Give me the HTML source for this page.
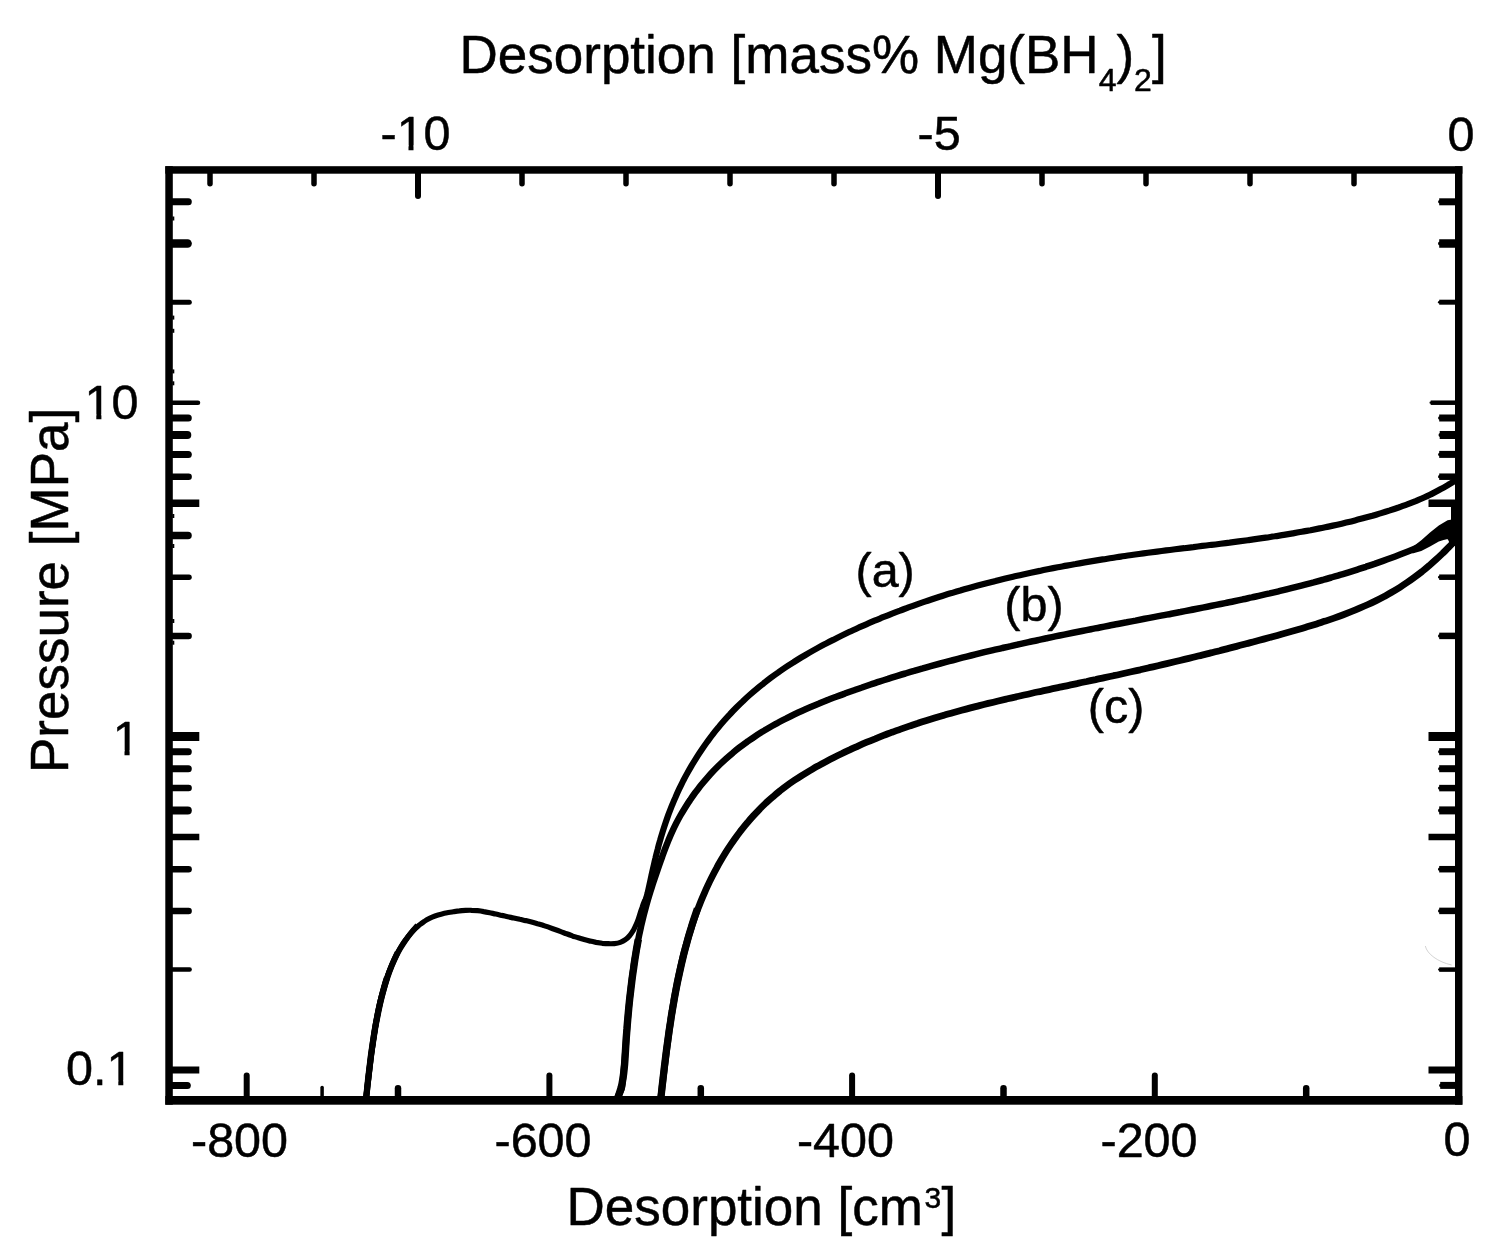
<!DOCTYPE html>
<html lang="en"><head><meta charset="utf-8"><title>Desorption isotherms</title>
<style>html,body{margin:0;padding:0;background:#fff}body{width:1486px;height:1256px;overflow:hidden}svg{display:block}text{font-family:"Liberation Sans",Arial,Helvetica,sans-serif;fill:#000;stroke:#000;stroke-width:.5px;stroke-linejoin:round}</style>
</head><body>
<svg width="1486" height="1256" viewBox="0 0 1486 1256">
<rect width="1486" height="1256" fill="#fff"/>
<g fill="#000">
<rect x="165.3" y="166.2" width="1297.1" height="7.5"/>
<rect x="165.3" y="1096.0" width="1297.1" height="8.7"/>
<rect x="165.3" y="166.2" width="7.5" height="938.5"/>
<rect x="1455.0" y="166.2" width="7.4" height="938.5"/>
<rect x="1451" y="507" width="5" height="39"/>
</g>
<g stroke="#000" stroke-linecap="round" fill="none">
<path d="M171.8,201.8h16.5" stroke-width="7.0"/>
<path d="M1456.0,201.8h-16.2" stroke-width="3.5"/>
<path d="M1456.0,201.8h-16.8" stroke-width="7.0" stroke-linecap="butt"/>
<path d="M171.8,243.5h15.8" stroke-width="8.5"/>
<path d="M1456.0,243.5h-15.9" stroke-width="4.2"/>
<path d="M1456.0,243.5h-16.8" stroke-width="8.5" stroke-linecap="butt"/>
<path d="M171.8,302.2h17.5" stroke-width="5.0"/>
<path d="M1456.0,302.2h-16.8" stroke-width="2.5"/>
<path d="M1456.0,302.2h-16.8" stroke-width="5.0" stroke-linecap="butt"/>
<path d="M171.8,402.7h26.2" stroke-width="4.5"/>
<path d="M1456.0,402.7h-25.4" stroke-width="2.2"/>
<path d="M1456.0,402.7h-25.3" stroke-width="4.5" stroke-linecap="butt"/>
<path d="M171.8,418.0h16.5" stroke-width="7.0"/>
<path d="M1456.0,418.0h-16.2" stroke-width="3.5"/>
<path d="M1456.0,418.0h-16.8" stroke-width="7.0" stroke-linecap="butt"/>
<path d="M171.8,435.0h15.5" stroke-width="8.0"/>
<path d="M1456.0,435.0h-15.5" stroke-width="4.0"/>
<path d="M1456.0,435.0h-16.3" stroke-width="8.0" stroke-linecap="butt"/>
<path d="M171.8,454.4h16.5" stroke-width="7.0"/>
<path d="M1456.0,454.4h-16.2" stroke-width="3.5"/>
<path d="M1456.0,454.4h-16.8" stroke-width="7.0" stroke-linecap="butt"/>
<path d="M171.8,476.7h16.8" stroke-width="6.5"/>
<path d="M1456.0,476.7h-16.4" stroke-width="3.2"/>
<path d="M1456.0,476.7h-16.8" stroke-width="6.5" stroke-linecap="butt"/>
<path d="M171.8,503.2h27.5M1456.0,503.2h-27.5" stroke-width="7.5" stroke-linecap="butt"/>
<path d="M171.8,535.5h16.2" stroke-width="7.5"/>
<path d="M1456.0,535.5h-16.1" stroke-width="3.8"/>
<path d="M1456.0,535.5h-16.8" stroke-width="7.5" stroke-linecap="butt"/>
<path d="M171.8,577.2h17.2" stroke-width="5.5"/>
<path d="M1456.0,577.2h-16.6" stroke-width="2.8"/>
<path d="M1456.0,577.2h-16.8" stroke-width="5.5" stroke-linecap="butt"/>
<path d="M171.8,635.9h16.8" stroke-width="6.5"/>
<path d="M1456.0,635.9h-16.4" stroke-width="3.2"/>
<path d="M1456.0,635.9h-16.8" stroke-width="6.5" stroke-linecap="butt"/>
<path d="M171.8,736.4h27.5M1456.0,736.4h-27.5" stroke-width="9.0" stroke-linecap="butt"/>
<path d="M171.8,751.7h16.5" stroke-width="7.0"/>
<path d="M1456.0,751.7h-16.2" stroke-width="3.5"/>
<path d="M1456.0,751.7h-16.8" stroke-width="7.0" stroke-linecap="butt"/>
<path d="M171.8,768.7h16.5" stroke-width="7.0"/>
<path d="M1456.0,768.7h-16.2" stroke-width="3.5"/>
<path d="M1456.0,768.7h-16.8" stroke-width="7.0" stroke-linecap="butt"/>
<path d="M171.8,788.1h16.8" stroke-width="6.5"/>
<path d="M1456.0,788.1h-16.4" stroke-width="3.2"/>
<path d="M1456.0,788.1h-16.8" stroke-width="6.5" stroke-linecap="butt"/>
<path d="M171.8,810.4h16.0" stroke-width="8.0"/>
<path d="M1456.0,810.4h-16.0" stroke-width="4.0"/>
<path d="M1456.0,810.4h-16.8" stroke-width="8.0" stroke-linecap="butt"/>
<path d="M171.8,836.9h27.5M1456.0,836.9h-27.5" stroke-width="6.5" stroke-linecap="butt"/>
<path d="M171.8,869.2h16.8" stroke-width="6.5"/>
<path d="M1456.0,869.2h-16.4" stroke-width="3.2"/>
<path d="M1456.0,869.2h-16.8" stroke-width="6.5" stroke-linecap="butt"/>
<path d="M171.8,910.9h16.8" stroke-width="6.5"/>
<path d="M1456.0,910.9h-16.4" stroke-width="3.2"/>
<path d="M1456.0,910.9h-16.8" stroke-width="6.5" stroke-linecap="butt"/>
<path d="M171.8,969.6h17.8" stroke-width="4.5"/>
<path d="M1456.0,969.6h-16.9" stroke-width="2.2"/>
<path d="M1456.0,969.6h-16.8" stroke-width="4.5" stroke-linecap="butt"/>
<path d="M171.8,1070.1h27.5M1456.0,1070.1h-27.5" stroke-width="7.0" stroke-linecap="butt"/>
<path d="M171.8,1085.4h15.5" stroke-width="7.0"/>
<path d="M1456.0,1085.4h-15.2" stroke-width="3.5"/>
<path d="M1456.0,1085.4h-15.8" stroke-width="7.0" stroke-linecap="butt"/>
<path d="M172.3,218.5h2" stroke-width="4" stroke-linecap="butt"/>
<path d="M172.3,317.6h2" stroke-width="4" stroke-linecap="butt"/>
<path d="M172.3,330.8h2" stroke-width="4" stroke-linecap="butt"/>
<path d="M172.3,371.4h2" stroke-width="4" stroke-linecap="butt"/>
<path d="M172.3,383.3h2" stroke-width="4" stroke-linecap="butt"/>
<path d="M172.3,516.0h2" stroke-width="4" stroke-linecap="butt"/>
<path d="M172.3,546.0h2" stroke-width="4" stroke-linecap="butt"/>
<path d="M172.3,621.0h2" stroke-width="4" stroke-linecap="butt"/>
<path d="M172.3,642.7h2" stroke-width="4" stroke-linecap="butt"/>
<path d="M210.0,172.7V183.8" stroke-width="5.5"/>
<path d="M314.0,172.7V183.8" stroke-width="5.5"/>
<path d="M418.0,172.7V196.0" stroke-width="6"/>
<path d="M522.0,172.7V183.8" stroke-width="5.5"/>
<path d="M626.0,172.7V183.8" stroke-width="5.5"/>
<path d="M730.0,172.7V183.8" stroke-width="5.5"/>
<path d="M834.0,172.7V183.8" stroke-width="5.5"/>
<path d="M938.0,172.7V196.0" stroke-width="6"/>
<path d="M1042.0,172.7V183.8" stroke-width="5.5"/>
<path d="M1146.0,172.7V183.8" stroke-width="5.5"/>
<path d="M1250.0,172.7V183.8" stroke-width="5.5"/>
<path d="M1354.0,172.7V183.8" stroke-width="5.5"/>
<path d="M246.7,1097.0V1075.5" stroke-width="6"/>
<path d="M549.4,1097.0V1075.5" stroke-width="6"/>
<path d="M852.1,1097.0V1075.5" stroke-width="6"/>
<path d="M1154.8,1097.0V1075.5" stroke-width="6"/>
<path d="M398.0,1097.0V1088.2" stroke-width="6.5"/>
<path d="M700.8,1097.0V1088.2" stroke-width="6.5"/>
<path d="M1003.5,1097.0V1088.2" stroke-width="6.5"/>
<path d="M1306.2,1097.0V1088.2" stroke-width="6.5"/>
<path d="M322.1,1097.0V1087.5" stroke-width="3.5"/>
</g>
<g fill="none" stroke="#000" stroke-linejoin="round" stroke-linecap="butt">
<path d="M366.5,1097.0C366.6,1096.0 366.7,1092.9 366.8,1090.9C367.0,1088.9 367.1,1086.8 367.3,1084.8C367.5,1082.8 367.7,1080.8 367.9,1078.7C368.1,1076.7 368.4,1074.7 368.6,1072.6C368.9,1070.6 369.1,1068.6 369.4,1066.5C369.7,1064.5 370.0,1062.5 370.3,1060.5C370.6,1058.4 370.9,1056.4 371.2,1054.4C371.5,1052.3 371.8,1050.3 372.1,1048.3C372.5,1046.3 372.8,1044.2 373.1,1042.2C373.4,1040.2 373.7,1038.2 374.1,1036.2C374.4,1034.2 374.7,1032.2 375.1,1030.1C375.4,1028.1 375.7,1026.1 376.1,1024.1C376.4,1022.1 376.8,1020.1 377.1,1018.1C377.5,1016.1 377.9,1014.1 378.2,1012.1C378.6,1010.1 379.0,1008.1 379.5,1006.1C379.9,1004.1 380.3,1002.1 380.8,1000.2C381.2,998.2 381.7,996.2 382.2,994.2C382.7,992.2 383.2,990.2 383.8,988.2C384.3,986.3 384.9,984.3 385.5,982.3C386.1,980.4 386.7,978.4 387.4,976.4C388.0,974.5 388.7,972.5 389.4,970.6C390.2,968.7 390.9,966.8 391.7,964.9C392.5,963.0 393.4,961.1 394.2,959.3C395.1,957.4 396.0,955.6 397.0,953.8C397.9,952.0 398.9,950.2 400.0,948.4C401.0,946.7 402.1,944.9 403.2,943.2C404.4,941.5 405.5,939.9 406.8,938.3C408.0,936.6 409.3,935.0 410.6,933.5C412.0,932.0 413.4,930.5 414.8,929.1C416.3,927.7 417.8,926.3 419.3,925.0C420.9,923.8 422.5,922.6 424.2,921.5C425.9,920.3 427.6,919.3 429.5,918.4C431.3,917.5 433.2,916.7 435.1,916.0C437.1,915.3 439.1,914.7 441.1,914.2C443.1,913.7 445.2,913.2 447.2,912.8C449.3,912.4 451.4,912.1 453.4,911.7C455.5,911.4 457.5,911.1 459.5,910.9C461.5,910.6 463.5,910.5 465.6,910.4C467.6,910.3 469.6,910.2 471.6,910.3C473.6,910.3 475.6,910.5 477.6,910.7C479.7,910.9 481.7,911.2 483.7,911.6C485.7,911.9 487.7,912.3 489.7,912.7C491.7,913.1 493.8,913.6 495.8,914.0C497.8,914.5 499.8,914.9 501.8,915.4C503.8,915.8 505.8,916.3 507.8,916.7C509.8,917.1 511.8,917.6 513.8,918.0C515.8,918.4 517.8,918.8 519.8,919.3C521.8,919.7 523.7,920.2 525.7,920.6C527.7,921.1 529.7,921.6 531.6,922.1C533.6,922.6 535.6,923.1 537.5,923.7C539.5,924.2 541.4,924.8 543.4,925.4C545.3,926.1 547.3,926.7 549.2,927.4C551.1,928.1 553.1,928.8 555.0,929.5C556.9,930.2 558.9,930.9 560.8,931.6C562.7,932.3 564.7,933.1 566.6,933.8C568.6,934.5 570.5,935.2 572.4,935.9C574.4,936.5 576.3,937.2 578.3,937.8C580.2,938.4 582.2,939.0 584.2,939.6C586.1,940.2 588.1,940.7 590.1,941.1C592.1,941.6 594.1,942.0 596.1,942.4C598.1,942.7 600.1,943.0 602.2,943.3C604.2,943.5 606.2,943.7 608.3,943.7C610.3,943.8 612.4,943.8 614.4,943.6C616.4,943.4 618.4,943.1 620.3,942.4C622.1,941.8 623.8,940.9 625.4,939.7C627.0,938.6 628.5,937.1 629.8,935.5C631.1,934.0 632.2,932.2 633.3,930.4C634.3,928.6 635.2,926.8 636.0,924.8C636.9,922.9 637.6,921.0 638.3,919.0C639.0,917.0 639.6,915.0 640.2,913.0C640.9,911.0 641.5,909.0 642.2,907.1C642.8,905.2 643.5,903.2 644.3,901.4C645.1,899.6 646.5,897.0 646.9,896.1" stroke-width="5.2"/>
<path d="M366.3,1097.0C366.5,1095.3 367.0,1090.3 367.3,1087.0C367.7,1083.7 368.0,1080.3 368.4,1077.0C368.8,1073.7 369.2,1070.3 369.6,1067.0C370.0,1063.7 370.4,1060.4 370.8,1057.0C371.2,1053.7 371.7,1050.4 372.2,1047.0C372.7,1043.7 373.2,1040.4 373.7,1037.1C374.2,1033.8 374.8,1030.5 375.3,1027.1C375.9,1023.8 376.5,1020.5 377.2,1017.2C377.8,1014.0 378.5,1010.7 379.2,1007.4C379.9,1004.1 380.7,1000.8 381.5,997.6C382.3,994.3 383.1,991.1 384.0,987.8C384.9,984.6 386.3,979.8 386.8,978.2" stroke-width="6.3"/>
<path d="M366.2,1096.9C366.4,1095.3 367.0,1090.4 367.4,1087.2C367.7,1083.9 368.1,1080.6 368.5,1077.4C368.9,1074.1 369.2,1070.8 369.6,1067.6C370.0,1064.3 370.4,1061.0 370.8,1057.7C371.2,1054.4 371.6,1051.1 372.1,1047.9C372.5,1044.6 373.0,1041.3 373.5,1038.0C374.0,1034.8 374.5,1031.5 375.0,1028.2C375.6,1025.0 376.2,1021.7 376.8,1018.5C377.4,1015.2 378.0,1012.0 378.7,1008.8C379.5,1005.5 380.2,1002.3 381.0,999.1C381.8,995.9 382.6,992.7 383.6,989.6C384.5,986.4 385.4,983.3 386.5,980.1C387.5,977.0 388.6,973.9 389.7,970.8C390.9,967.7 392.1,964.7 393.5,961.6C394.8,958.6 396.9,954.1 397.6,952.6" stroke-width="6.0"/>
<path d="M366.1,1096.8C366.3,1095.2 366.9,1090.6 367.3,1087.5C367.7,1084.4 368.1,1081.2 368.5,1078.1C368.8,1074.9 369.2,1071.8 369.6,1068.6C370.0,1065.5 370.4,1062.3 370.7,1059.1C371.1,1055.9 371.5,1052.7 372.0,1049.6C372.4,1046.4 372.8,1043.2 373.3,1040.0C373.7,1036.8 374.2,1033.6 374.7,1030.4C375.2,1027.3 375.7,1024.1 376.3,1020.9C376.9,1017.8 377.5,1014.6 378.1,1011.4C378.7,1008.3 379.4,1005.1 380.1,1002.0C380.9,998.9 381.6,995.8 382.5,992.7C383.3,989.6 384.2,986.6 385.1,983.5C386.1,980.5 387.1,977.5 388.2,974.5C389.3,971.5 390.5,968.6 391.7,965.7C393.0,962.8 394.3,959.9 395.7,957.1C397.1,954.2 398.6,951.5 400.2,948.7C401.8,946.0 403.5,943.3 405.3,940.6C407.1,938.0 409.0,935.4 411.0,932.9C413.1,930.3 416.4,926.7 417.5,925.4" stroke-width="5.6"/>
<path d="M642.4,910.8C642.9,909.4 644.3,905.2 645.2,902.3C646.0,899.4 646.7,896.5 647.5,893.6C648.2,890.6 648.8,887.7 649.5,884.7C650.1,881.8 650.8,878.8 651.4,875.8C652.1,872.9 652.7,869.9 653.4,866.9C654.1,864.0 654.7,861.0 655.5,858.0C656.2,855.1 656.9,852.1 657.7,849.2C658.4,846.2 659.2,843.3 660.1,840.4C660.9,837.4 661.8,834.5 662.7,831.6C663.6,828.7 664.5,825.8 665.5,822.9C666.5,820.1 667.5,817.2 668.5,814.4C669.6,811.5 670.7,808.7 671.8,805.9C673.0,803.1 674.1,800.3 675.4,797.5C676.6,794.7 677.8,791.9 679.1,789.2C680.4,786.5 681.8,783.7 683.1,781.0C684.5,778.3 685.9,775.6 687.4,773.0C688.9,770.3 690.4,767.7 691.9,765.1C693.5,762.5 695.1,759.9 696.7,757.3C698.3,754.7 700.0,752.2 701.7,749.7C703.4,747.2 705.1,744.7 706.9,742.2C708.7,739.8 710.5,737.3 712.4,734.9C714.2,732.5 716.1,730.1 718.1,727.8C720.0,725.4 722.0,723.1 724.0,720.8C726.0,718.5 728.0,716.3 730.1,714.1C732.1,711.8 734.2,709.7 736.4,707.5C738.5,705.4 740.7,703.2 742.9,701.2C745.1,699.1 747.3,697.0 749.6,695.0C751.9,693.0 754.2,691.0 756.5,689.1C758.8,687.1 761.2,685.2 763.6,683.4C765.9,681.5 768.4,679.6 770.8,677.8C773.2,676.0 775.7,674.2 778.2,672.5C780.7,670.7 783.2,669.0 785.7,667.3C788.2,665.6 790.8,664.0 793.4,662.4C795.9,660.7 798.5,659.1 801.1,657.5C803.7,656.0 806.4,654.4 809.0,652.9C811.6,651.4 814.3,649.9 817.0,648.4C819.7,646.9 822.3,645.5 825.0,644.1C827.7,642.6 830.5,641.2 833.2,639.9C835.9,638.5 838.6,637.1 841.4,635.8C844.1,634.5 846.9,633.1 849.6,631.8C852.4,630.5 855.2,629.3 857.9,628.0C860.7,626.8 863.5,625.5 866.3,624.3C869.0,623.1 871.8,621.9 874.6,620.7C877.4,619.5 880.2,618.4 883.1,617.2C885.9,616.1 888.7,615.0 891.5,613.8C894.3,612.7 897.2,611.6 900.0,610.6C902.8,609.5 905.7,608.5 908.5,607.4C911.4,606.4 914.2,605.4 917.1,604.3C919.9,603.3 922.8,602.4 925.7,601.4C928.5,600.4 931.4,599.5 934.3,598.5C937.2,597.6 940.0,596.7 942.9,595.7C945.8,594.8 948.7,593.9 951.6,593.1C954.5,592.2 957.4,591.3 960.3,590.5C963.2,589.6 966.1,588.8 969.1,588.0C972.0,587.2 974.9,586.4 977.8,585.6C980.8,584.8 983.7,584.0 986.6,583.2C989.6,582.5 992.5,581.7 995.4,581.0C998.4,580.2 1001.3,579.5 1004.3,578.8C1007.2,578.1 1010.2,577.4 1013.1,576.7C1016.1,576.0 1019.1,575.4 1022.0,574.7C1025.0,574.0 1027.9,573.4 1030.9,572.7C1033.9,572.1 1036.9,571.5 1039.8,570.9C1042.8,570.2 1045.8,569.6 1048.8,569.0C1051.8,568.4 1054.7,567.9 1057.7,567.3C1060.7,566.7 1063.7,566.2 1066.7,565.6C1069.7,565.0 1072.7,564.5 1075.7,564.0C1078.7,563.4 1081.7,562.9 1084.7,562.4C1087.7,561.9 1090.7,561.4 1093.7,560.9C1096.7,560.4 1099.7,559.9 1102.7,559.4C1105.7,558.9 1108.8,558.5 1111.8,558.0C1114.8,557.5 1117.8,557.1 1120.8,556.6C1123.8,556.2 1126.8,555.7 1129.9,555.3C1132.9,554.9 1135.9,554.5 1138.9,554.0C1141.9,553.6 1145.0,553.2 1148.0,552.8C1151.0,552.4 1154.0,552.0 1157.1,551.6C1160.1,551.2 1163.1,550.8 1166.1,550.4C1169.2,550.1 1172.2,549.7 1175.2,549.3C1178.2,548.9 1181.3,548.5 1184.3,548.2C1187.3,547.8 1190.3,547.4 1193.4,547.1C1196.4,546.7 1199.4,546.3 1202.4,545.9C1205.5,545.6 1208.5,545.2 1211.5,544.8C1214.5,544.5 1217.6,544.1 1220.6,543.7C1223.6,543.3 1226.6,542.9 1229.6,542.6C1232.7,542.2 1235.7,541.8 1238.7,541.4C1241.7,541.0 1244.7,540.6 1247.7,540.2C1250.7,539.8 1253.8,539.4 1256.8,538.9C1259.8,538.5 1262.8,538.1 1265.8,537.6C1268.8,537.2 1271.8,536.7 1274.8,536.3C1277.8,535.8 1280.8,535.4 1283.8,534.9C1286.8,534.4 1289.8,533.9 1292.8,533.4C1295.7,532.9 1298.7,532.4 1301.7,531.8C1304.7,531.3 1307.7,530.7 1310.6,530.2C1313.6,529.6 1316.6,529.0 1319.6,528.4C1322.5,527.9 1325.5,527.2 1328.5,526.6C1331.4,526.0 1334.4,525.3 1337.3,524.7C1340.3,524.0 1343.2,523.3 1346.2,522.6C1349.1,521.9 1352.0,521.2 1355.0,520.4C1357.9,519.7 1360.8,518.9 1363.8,518.1C1366.7,517.3 1369.6,516.5 1372.5,515.7C1375.4,514.8 1378.3,514.0 1381.2,513.1C1384.1,512.2 1387.0,511.3 1389.9,510.4C1392.8,509.4 1395.7,508.4 1398.6,507.5C1401.5,506.5 1404.3,505.4 1407.2,504.4C1410.1,503.3 1412.9,502.2 1415.7,501.1C1418.5,499.9 1421.4,498.8 1424.1,497.5C1426.9,496.3 1429.6,494.9 1432.3,493.6C1435.1,492.2 1437.7,490.8 1440.4,489.3C1443.1,487.9 1445.7,486.4 1448.3,484.8C1450.9,483.3 1454.7,480.9 1456.0,480.1" stroke-width="6.2"/>
<path d="M617.4,1097.0C618.1,1095.7 620.7,1091.8 621.6,1089.0C622.5,1086.1 622.5,1083.0 622.8,1080.0C623.2,1077.0 623.5,1074.0 623.7,1070.9C624.0,1067.9 624.3,1064.9 624.5,1061.9C624.8,1058.9 625.0,1055.8 625.2,1052.8C625.5,1049.8 625.7,1046.8 625.9,1043.7C626.1,1040.7 626.3,1037.7 626.6,1034.7C626.8,1031.7 627.0,1028.6 627.2,1025.6C627.5,1022.6 627.7,1019.6 628.0,1016.5C628.3,1013.5 628.5,1010.5 628.8,1007.4C629.1,1004.4 629.4,1001.4 629.7,998.4C630.0,995.4 630.4,992.3 630.7,989.3C631.0,986.3 631.4,983.3 631.8,980.3C632.2,977.3 632.6,974.2 633.0,971.2C633.4,968.2 633.9,965.2 634.3,962.2C634.8,959.2 635.3,956.2 635.8,953.2C636.3,950.3 636.8,947.3 637.4,944.3C637.9,941.3 638.5,938.3 639.1,935.4C639.7,932.4 640.4,929.5 641.0,926.5C641.7,923.5 642.4,920.6 643.1,917.7C643.8,914.7 644.6,911.8 645.4,908.9C646.2,906.0 647.0,903.0 647.8,900.1C648.7,897.2 649.5,894.3 650.4,891.5C651.3,888.6 652.3,885.7 653.2,882.8C654.2,879.9 655.1,877.1 656.1,874.2C657.1,871.3 658.0,868.5 659.0,865.6C660.0,862.7 661.0,859.9 662.1,857.0C663.1,854.2 664.1,851.3 665.2,848.5C666.3,845.7 667.4,842.9 668.5,840.1C669.7,837.3 670.9,834.5 672.2,831.7C673.4,829.0 674.7,826.2 676.1,823.5C677.5,820.8 678.9,818.2 680.4,815.5C681.9,812.9 683.5,810.3 685.1,807.7C686.7,805.1 688.3,802.5 690.1,800.0C691.8,797.5 693.5,795.0 695.3,792.5C697.2,790.1 699.0,787.7 700.9,785.3C702.8,782.9 704.8,780.6 706.8,778.3C708.8,776.0 710.8,773.7 712.9,771.5C715.0,769.3 717.1,767.2 719.3,765.0C721.5,762.9 723.7,760.8 725.9,758.8C728.2,756.8 730.5,754.8 732.8,752.9C735.1,750.9 737.5,749.0 739.9,747.2C742.2,745.4 744.7,743.6 747.1,741.8C749.6,740.1 752.0,738.4 754.6,736.7C757.1,735.0 759.6,733.4 762.2,731.8C764.7,730.2 767.3,728.7 769.9,727.2C772.6,725.7 775.2,724.2 777.9,722.8C780.5,721.3 783.2,719.9 785.9,718.6C788.6,717.2 791.3,715.8 794.1,714.5C796.8,713.2 799.6,711.9 802.3,710.7C805.1,709.4 807.9,708.2 810.7,707.0C813.5,705.8 816.3,704.6 819.1,703.5C821.9,702.3 824.8,701.2 827.6,700.0C830.5,698.9 833.3,697.8 836.2,696.8C839.0,695.7 841.9,694.6 844.8,693.6C847.6,692.5 850.5,691.5 853.4,690.5C856.2,689.5 859.1,688.4 862.0,687.5C864.9,686.5 867.8,685.5 870.6,684.5C873.5,683.5 876.4,682.6 879.3,681.6C882.2,680.7 885.1,679.8 888.0,678.9C890.9,677.9 893.8,677.0 896.7,676.1C899.6,675.2 902.5,674.3 905.4,673.5C908.3,672.6 911.2,671.7 914.1,670.9C917.0,670.0 919.9,669.2 922.8,668.4C925.8,667.5 928.7,666.7 931.6,665.9C934.5,665.1 937.4,664.3 940.4,663.5C943.3,662.7 946.2,661.9 949.1,661.1C952.1,660.4 955.0,659.6 957.9,658.8C960.8,658.1 963.8,657.3 966.7,656.6C969.6,655.9 972.6,655.1 975.5,654.4C978.5,653.7 981.4,653.0 984.3,652.2C987.3,651.5 990.2,650.8 993.2,650.1C996.1,649.4 999.1,648.8 1002.0,648.1C1005.0,647.4 1007.9,646.7 1010.9,646.1C1013.8,645.4 1016.8,644.7 1019.7,644.1C1022.7,643.4 1025.6,642.8 1028.6,642.1C1031.5,641.5 1034.5,640.8 1037.5,640.2C1040.4,639.6 1043.4,638.9 1046.4,638.3C1049.3,637.7 1052.3,637.1 1055.2,636.4C1058.2,635.8 1061.2,635.2 1064.2,634.6C1067.1,634.0 1070.1,633.4 1073.1,632.8C1076.0,632.2 1079.0,631.6 1082.0,631.0C1085.0,630.4 1087.9,629.8 1090.9,629.2C1093.9,628.6 1096.9,628.1 1099.8,627.5C1102.8,626.9 1105.8,626.3 1108.8,625.7C1111.7,625.1 1114.7,624.6 1117.7,624.0C1120.7,623.4 1123.7,622.8 1126.7,622.3C1129.6,621.7 1132.6,621.1 1135.6,620.6C1138.6,620.0 1141.6,619.4 1144.6,618.8C1147.5,618.3 1150.5,617.7 1153.5,617.1C1156.5,616.6 1159.5,616.0 1162.5,615.4C1165.5,614.8 1168.5,614.3 1171.4,613.7C1174.4,613.1 1177.4,612.5 1180.4,612.0C1183.4,611.4 1186.4,610.8 1189.4,610.2C1192.4,609.7 1195.3,609.1 1198.3,608.5C1201.3,607.9 1204.3,607.3 1207.3,606.7C1210.3,606.1 1213.2,605.5 1216.2,604.9C1219.2,604.3 1222.2,603.7 1225.2,603.1C1228.1,602.5 1231.1,601.8 1234.1,601.2C1237.1,600.6 1240.1,600.0 1243.0,599.3C1246.0,598.7 1249.0,598.0 1251.9,597.4C1254.9,596.7 1257.9,596.1 1260.8,595.4C1263.8,594.7 1266.8,594.0 1269.7,593.4C1272.7,592.7 1275.6,592.0 1278.6,591.3C1281.5,590.6 1284.5,589.9 1287.4,589.1C1290.4,588.4 1293.3,587.7 1296.3,586.9C1299.2,586.2 1302.1,585.5 1305.1,584.7C1308.0,583.9 1310.9,583.1 1313.8,582.4C1316.8,581.6 1319.7,580.8 1322.6,580.0C1325.5,579.1 1328.4,578.3 1331.3,577.5C1334.3,576.6 1337.2,575.8 1340.1,574.9C1343.0,574.1 1345.8,573.2 1348.7,572.3C1351.6,571.4 1354.5,570.5 1357.4,569.6C1360.3,568.7 1363.1,567.7 1366.0,566.8C1368.9,565.8 1371.7,564.8 1374.6,563.9C1377.4,562.9 1380.3,561.9 1383.1,560.9C1386.0,559.8 1388.8,558.8 1391.7,557.7C1394.5,556.7 1397.3,555.6 1400.1,554.5C1403.0,553.4 1405.8,552.3 1408.6,551.2C1411.4,550.1 1414.2,549.0 1417.0,547.7C1419.7,546.5 1422.5,545.3 1425.0,543.7C1427.6,542.1 1430.0,540.2 1432.3,538.2C1434.7,536.3 1436.7,533.8 1439.1,531.9C1441.5,530.0 1444.1,528.3 1446.7,526.9C1449.4,525.4 1453.7,523.8 1455.1,523.1" stroke-width="6.5"/>
<path d="M660.9,1097.0C661.1,1095.5 661.6,1091.0 662.0,1088.0C662.4,1085.0 662.7,1081.9 663.1,1078.9C663.4,1075.9 663.8,1072.9 664.2,1069.9C664.5,1066.9 664.9,1063.9 665.3,1060.8C665.6,1057.8 666.0,1054.8 666.4,1051.8C666.8,1048.8 667.2,1045.7 667.6,1042.7C668.0,1039.7 668.4,1036.7 668.8,1033.7C669.2,1030.6 669.6,1027.6 670.1,1024.6C670.5,1021.6 671.0,1018.6 671.4,1015.6C671.9,1012.6 672.4,1009.6 672.9,1006.6C673.4,1003.6 673.9,1000.6 674.4,997.6C675.0,994.6 675.5,991.6 676.1,988.6C676.7,985.6 677.3,982.6 677.9,979.6C678.5,976.7 679.1,973.7 679.8,970.7C680.4,967.8 681.1,964.8 681.8,961.8C682.5,958.9 683.2,956.0 684.0,953.0C684.8,950.1 685.5,947.1 686.4,944.2C687.2,941.3 688.0,938.4 688.9,935.5C689.8,932.6 690.7,929.7 691.6,926.8C692.5,923.9 693.5,921.1 694.5,918.2C695.5,915.3 696.5,912.5 697.6,909.6C698.7,906.8 699.8,904.0 700.9,901.2C702.1,898.3 703.3,895.5 704.5,892.8C705.7,890.0 707.0,887.2 708.3,884.4C709.6,881.7 710.9,878.9 712.3,876.2C713.7,873.5 715.1,870.8 716.6,868.1C718.0,865.4 719.5,862.8 721.1,860.1C722.6,857.5 724.2,854.9 725.8,852.3C727.4,849.7 729.1,847.2 730.8,844.7C732.5,842.1 734.3,839.6 736.0,837.2C737.8,834.7 739.7,832.3 741.5,829.9C743.4,827.5 745.3,825.1 747.3,822.8C749.2,820.5 751.2,818.2 753.3,815.9C755.3,813.7 757.4,811.5 759.5,809.3C761.6,807.1 763.8,805.0 766.0,802.9C768.2,800.9 770.5,798.8 772.8,796.9C775.0,794.9 777.4,792.9 779.8,791.0C782.1,789.2 784.5,787.3 787.0,785.5C789.4,783.7 791.9,782.0 794.4,780.3C797.0,778.6 799.5,777.0 802.1,775.3C804.7,773.7 807.3,772.1 809.9,770.6C812.5,769.1 815.1,767.5 817.8,766.1C820.4,764.6 823.1,763.1 825.8,761.7C828.5,760.3 831.2,758.9 833.9,757.5C836.6,756.1 839.3,754.8 842.0,753.5C844.7,752.1 847.5,750.8 850.2,749.6C852.9,748.3 855.7,747.1 858.5,745.8C861.2,744.6 864.0,743.4 866.8,742.2C869.6,741.0 872.4,739.9 875.2,738.8C878.0,737.6 880.8,736.5 883.6,735.4C886.4,734.3 889.3,733.3 892.1,732.2C895.0,731.2 897.8,730.1 900.7,729.1C903.5,728.1 906.4,727.1 909.3,726.1C912.1,725.2 915.0,724.2 917.9,723.3C920.8,722.3 923.7,721.4 926.6,720.5C929.5,719.6 932.4,718.7 935.3,717.8C938.2,716.9 941.1,716.1 944.0,715.2C947.0,714.4 949.9,713.5 952.8,712.7C955.8,711.9 958.7,711.1 961.6,710.3C964.6,709.5 967.5,708.7 970.5,707.9C973.4,707.1 976.4,706.4 979.4,705.6C982.3,704.9 985.3,704.1 988.2,703.4C991.2,702.7 994.2,702.0 997.2,701.2C1000.1,700.5 1003.1,699.8 1006.1,699.1C1009.1,698.4 1012.0,697.7 1015.0,697.1C1018.0,696.4 1021.0,695.7 1024.0,695.0C1027.0,694.4 1030.0,693.7 1032.9,693.0C1035.9,692.4 1038.9,691.7 1041.9,691.1C1044.9,690.4 1047.9,689.8 1050.9,689.1C1053.9,688.5 1056.9,687.8 1059.9,687.2C1062.8,686.6 1065.8,685.9 1068.8,685.3C1071.8,684.7 1074.8,684.0 1077.8,683.4C1080.8,682.7 1083.8,682.1 1086.8,681.5C1089.7,680.8 1092.7,680.2 1095.7,679.6C1098.7,678.9 1101.7,678.3 1104.6,677.6C1107.6,677.0 1110.6,676.4 1113.6,675.7C1116.5,675.1 1119.5,674.4 1122.5,673.7C1125.4,673.1 1128.4,672.4 1131.3,671.8C1134.3,671.1 1137.3,670.4 1140.2,669.8C1143.2,669.1 1146.1,668.4 1149.1,667.7C1152.0,667.1 1155.0,666.4 1157.9,665.7C1160.9,665.0 1163.8,664.3 1166.8,663.6C1169.7,662.9 1172.6,662.2 1175.6,661.5C1178.5,660.8 1181.5,660.1 1184.4,659.4C1187.3,658.7 1190.3,658.0 1193.2,657.3C1196.2,656.6 1199.1,655.8 1202.0,655.1C1205.0,654.4 1207.9,653.6 1210.8,652.9C1213.8,652.2 1216.7,651.4 1219.7,650.7C1222.6,649.9 1225.5,649.2 1228.5,648.4C1231.4,647.7 1234.3,646.9 1237.3,646.1C1240.2,645.4 1243.1,644.6 1246.1,643.8C1249.0,643.0 1252.0,642.3 1254.9,641.5C1257.8,640.7 1260.8,639.9 1263.7,639.1C1266.7,638.3 1269.6,637.5 1272.5,636.7C1275.5,635.9 1278.4,635.1 1281.4,634.2C1284.3,633.4 1287.3,632.6 1290.2,631.8C1293.2,630.9 1296.1,630.1 1299.1,629.2C1302.0,628.4 1304.9,627.5 1307.9,626.6C1310.8,625.7 1313.7,624.8 1316.7,623.9C1319.6,623.0 1322.5,622.0 1325.4,621.1C1328.3,620.1 1331.2,619.1 1334.1,618.1C1337.0,617.1 1339.8,616.1 1342.7,615.0C1345.6,613.9 1348.4,612.8 1351.2,611.7C1354.0,610.6 1356.9,609.4 1359.6,608.2C1362.4,607.0 1365.2,605.8 1368.0,604.5C1370.7,603.3 1373.4,602.0 1376.2,600.6C1378.9,599.3 1381.6,597.9 1384.2,596.5C1386.9,595.0 1389.5,593.6 1392.1,592.0C1394.7,590.5 1397.3,588.9 1399.9,587.3C1402.4,585.7 1404.9,584.0 1407.4,582.3C1409.9,580.6 1412.4,578.8 1414.8,577.0C1417.3,575.2 1419.7,573.4 1422.1,571.5C1424.4,569.6 1426.8,567.6 1429.1,565.7C1431.4,563.7 1433.7,561.7 1436.0,559.6C1438.2,557.6 1440.4,555.5 1442.6,553.4C1444.8,551.2 1447.0,549.1 1449.1,546.9C1451.3,544.7 1454.4,541.3 1455.4,540.2" stroke-width="6.8"/>
<path d="M618.1,1097.3C618.6,1095.7 620.2,1091.0 621.1,1087.9C621.9,1084.7 622.5,1081.5 623.0,1078.2C623.5,1075.0 623.9,1071.7 624.2,1068.4C624.6,1065.1 624.8,1061.8 625.0,1058.5C625.2,1055.1 625.4,1051.8 625.6,1048.5C625.8,1045.1 626.0,1041.8 626.2,1038.5C626.5,1035.2 626.7,1031.8 627.0,1028.5C627.2,1025.2 627.5,1021.9 627.8,1018.5C628.1,1015.2 628.4,1011.9 628.7,1008.6C629.0,1005.3 629.4,1002.0 629.7,998.7C630.1,995.4 630.5,992.1 630.9,988.8C631.3,985.4 631.7,982.1 632.1,978.8C632.5,975.6 633.0,972.3 633.5,969.0C633.9,965.7 634.4,962.4 634.9,959.1C635.5,955.8 636.0,952.5 636.5,949.2C637.1,946.0 638.0,941.1 638.3,939.4" stroke-width="7.4"/>
<path d="M661.0,1097.0C661.2,1095.4 661.7,1090.6 662.0,1087.5C662.4,1084.3 662.8,1081.1 663.1,1077.9C663.5,1074.7 663.9,1071.6 664.2,1068.4C664.6,1065.2 665.0,1062.0 665.4,1058.8C665.8,1055.7 666.2,1052.5 666.6,1049.3C667.0,1046.1 667.5,1043.0 667.9,1039.8C668.3,1036.6 668.8,1033.4 669.2,1030.3C669.7,1027.1 670.2,1023.9 670.7,1020.8C671.1,1017.6 671.6,1014.4 672.2,1011.3C672.7,1008.1 673.2,1005.0 673.8,1001.8C674.3,998.7 674.9,995.5 675.5,992.4C676.1,989.2 676.7,986.1 677.3,982.9C678.0,979.8 678.6,976.7 679.3,973.6C680.0,970.4 680.7,967.3 681.4,964.2C682.1,961.1 682.9,958.0 683.6,954.9C684.4,951.8 685.2,948.7 686.1,945.6C686.9,942.5 687.7,939.4 688.6,936.3C689.5,933.2 690.4,930.2 691.4,927.1C692.3,924.0 693.3,921.0 694.3,917.9C695.3,914.9 696.9,910.3 697.4,908.8" stroke-width="7.3"/>
<path d="M1412.5,547.0 L1421.3,540.3 L1430.0,532.4 L1438.8,525.4 L1447.6,520.2 L1455.0,519.0 L1455.0,546.0 L1451.0,546.0 L1447.6,538.8 L1438.8,541.4 L1430.0,546.6 L1421.3,551.0 L1412.5,553.5 Z" fill="#000" stroke="none"/>
<path d="M1425.3,946C1427,954 1438,962 1451.6,965" stroke="#c8c8c8" stroke-width="0.8"/>
</g>
<text transform="translate(459.5,73.0) scale(1,1.000)" font-size="53">Desorption [mass% Mg(BH<tspan font-size="32" dy="17.8">4</tspan><tspan dy="-17.8">)</tspan><tspan font-size="32" dy="17.8">2</tspan><tspan dy="-17.8">]</tspan></text>
<text transform="translate(566.5,1225.0) scale(1,1.000)" font-size="53">Desorption [cm<tspan font-size="30" dy="-17.2" dx="1.5">3</tspan><tspan dy="17.2" dx="0.5">]</tspan></text>
<text transform="translate(68.2,773) rotate(-90) scale(1,1.000)" font-size="53">Pressure [MPa]</text>
<text transform="translate(380.5,150.0) scale(1,1.000)" font-size="48.5">-10</text>
<text transform="translate(917.6,150.0) scale(1,1.000)" font-size="48.5">-5</text>
<text transform="translate(1447.6,150.5) scale(1,1.000)" font-size="48.5">0</text>
<text transform="translate(191.0,1157.0) scale(1,1.000)" font-size="48.5">-800</text>
<text transform="translate(494.5,1157.0) scale(1,1.000)" font-size="48.5">-600</text>
<text transform="translate(796.9,1157.0) scale(1,1.000)" font-size="48.5">-400</text>
<text transform="translate(1100.5,1157.0) scale(1,1.000)" font-size="48.5">-200</text>
<text transform="translate(1443.4,1156.0) scale(1,1.000)" font-size="48.5">0</text>
<text transform="translate(84.5,419.0) scale(1,1.000)" font-size="48.5">10</text>
<text transform="translate(112.7,755.0) scale(1,1.000)" font-size="48.5">1</text>
<text transform="translate(66.0,1085.0) scale(1,1.000)" font-size="48.5">0.1</text>
<text transform="translate(855.5,587.4) scale(1,1.000)" font-size="48.5">(a)</text>
<text transform="translate(1004.3,621.4) scale(1,1.000)" font-size="48.5">(b)</text>
<text transform="translate(1087.8,723.3) scale(1,1.000)" font-size="48.5">(c)</text>
<g fill="#fff"><rect x="398.6" y="145.4" width="9.9" height="6.4"/><rect x="413.5" y="145.4" width="10.0" height="6.4"/><rect x="86.4" y="414.4" width="9.9" height="6.4"/><rect x="101.4" y="414.4" width="10.0" height="6.4"/><rect x="114.6" y="750.4" width="9.9" height="6.4"/><rect x="129.6" y="750.4" width="10.0" height="6.4"/><rect x="108.4" y="1080.4" width="9.9" height="6.4"/><rect x="123.3" y="1080.4" width="10.0" height="6.4"/></g>
</svg></body></html>
